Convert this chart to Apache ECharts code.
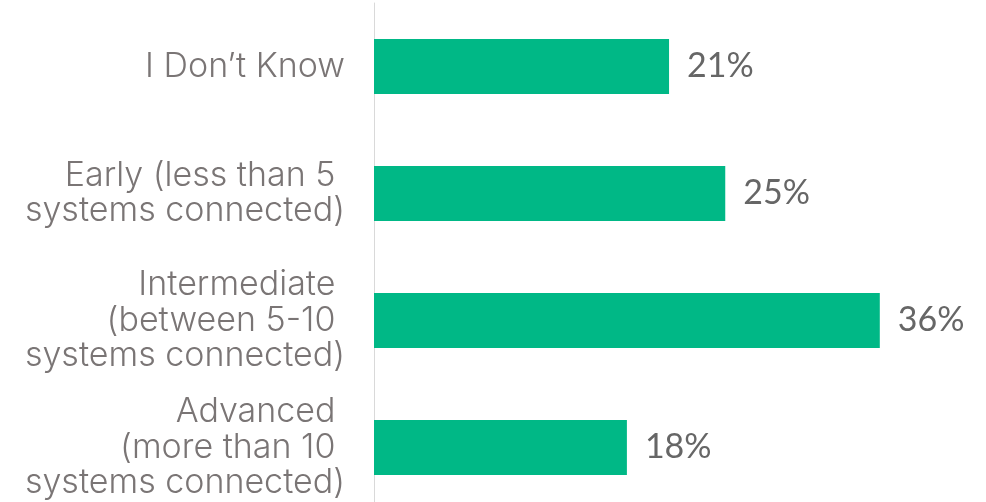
<!DOCTYPE html>
<html>
<head>
<meta charset="utf-8">
<style>
  html, body { margin: 0; padding: 0; background: #ffffff; }
  #chart { width: 986px; height: 502px; }
</style>
<script src="https://cdn.jsdelivr.net/npm/echarts@6/dist/echarts.min.js"></script>
</head>
<body>
<div id="chart"></div>
<script>
// Maturity stages, listed top to bottom
const categories = [
  "I Don\u2019t Know",
  "Early (less than 5 \nsystems connected)",
  "Intermediate \n(between 5-10 \nsystems connected)",
  "Advanced \n(more than 10 \nsystems connected)"
];
// Share of respondents, percent
const shares = [21, 25, 36, 18];

const chart = echarts.init(document.getElementById('chart'), null, { renderer: 'canvas' });

chart.setOption({
  animation: false,
  backgroundColor: '#ffffff',
  grid: { left: 374, right: 50, top: 3, bottom: -9, outerBoundsMode: 'none', containLabel: false },
  xAxis: {
    type: 'value',
    min: 0,
    max: 40,
    show: false
  },
  yAxis: {
    type: 'category',
    data: categories,
    inverse: true,
    axisLine: { show: true, lineStyle: { color: '#d9d9d9', width: 1 } },
    axisTick: { show: false },
    axisLabel: {
      margin: 29,
      color: '#7a7575',
      fontFamily: 'Inter',
      fontWeight: 300,
      fontSize: 34,
      lineHeight: 35.5,
      align: 'right'
    }
  },
  series: [{
    type: 'bar',
    data: shares,
    barWidth: 55,
    itemStyle: { color: '#00b886' },
    label: {
      show: true,
      position: 'right',
      distance: 18,
      formatter: '{c}%',
      color: '#666666',
      fontFamily: 'Lato',
      fontSize: 34
    }
  }]
});
</script>
</body>
</html>
